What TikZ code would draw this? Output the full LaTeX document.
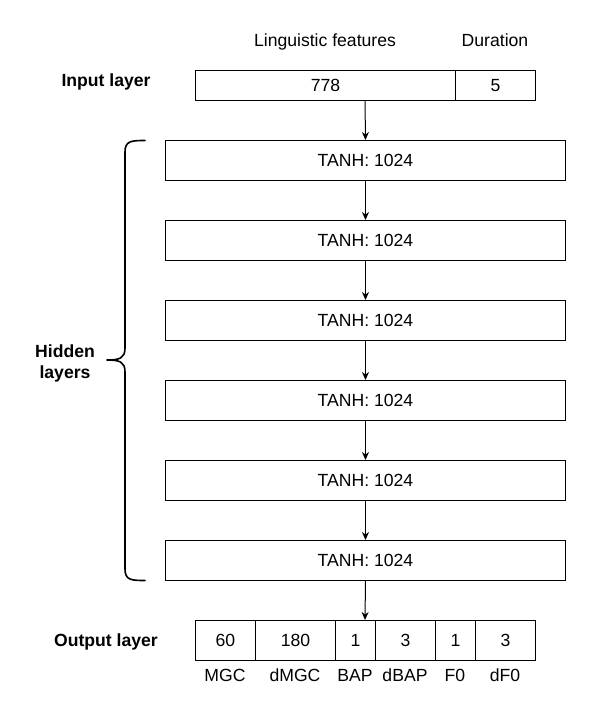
\documentclass[tikz,border=0pt]{standalone}
\usepackage{fontspec}
\setmainfont{Liberation Sans}
\usetikzlibrary{arrows.meta}
\begin{document}
\begin{tikzpicture}[x=1pt,y=-1pt,
  cell/.style={draw=black,line width=1pt,minimum height=30pt,inner sep=0pt,anchor=north west},
  hid/.style={draw=black,line width=1pt,minimum width=400pt,minimum height=40pt,inner sep=0pt,anchor=north west},
  txt/.style={font=\fontsize{17.6}{21}\selectfont,inner sep=0pt,text height=16pt,text depth=3.4pt},
  lbl/.style={font=\fontsize{17.6}{21}\selectfont\bfseries,inner sep=0pt,align=center,text height=16pt,text depth=3.4pt},
  link/.style={draw=black,line width=1pt,-{Stealth[length=8pt,width=7pt]}}]
\useasboundingbox (0,0) rectangle (591,716);
\fill[white] (0,0) rectangle (591,716);

% column captions of the input layer
\node[txt] (capling) at (325,40) {Linguistic features};
\node[txt] (capdur) at (495,40) {Duration};

% input layer
\node[lbl] (inlbl) at (106,80) {Input layer};
\node[cell,minimum width=260pt,txt] (in1) at (195,70) {778};
\node[cell,minimum width=80pt,txt] (in2) at (455,70) {5};
\coordinate (inbot) at (365,100);

% hidden layers
\foreach \i/\y in {1/140,2/220,3/300,4/380,5/460,6/540}{
  \node[hid,txt] (h\i) at (165,\y) {TANH: 1024};
}

% output layer
\node[lbl] (outlbl) at (106,640) {Output layer};
\node[cell,minimum width=60pt,minimum height=40pt,txt] (o1) at (195,620) {60};
\node[cell,minimum width=80pt,minimum height=40pt,txt] (o2) at (255,620) {180};
\node[cell,minimum width=40pt,minimum height=40pt,txt] (o3) at (335,620) {1};
\node[cell,minimum width=60pt,minimum height=40pt,txt] (o4) at (375,620) {3};
\node[cell,minimum width=40pt,minimum height=40pt,txt] (o5) at (435,620) {1};
\node[cell,minimum width=60pt,minimum height=40pt,txt] (o6) at (475,620) {3};
\coordinate (outtop) at (365,620);

% output captions
\node[txt] (c1) at (225,675) {MGC};
\node[txt] (c2) at (295,675) {dMGC};
\node[txt] (c3) at (355,675) {BAP};
\node[txt] (c4) at (405,675) {dBAP};
\node[txt] (c5) at (455,675) {F0};
\node[txt] (c6) at (505,675) {dF0};

% connectors
\draw[link] (inbot) -- (h1.north);
\draw[link] (h1.south) -- (h2.north);
\draw[link] (h2.south) -- (h3.north);
\draw[link] (h3.south) -- (h4.north);
\draw[link] (h4.south) -- (h5.north);
\draw[link] (h5.south) -- (h6.north);
\draw[link] (h6.south) -- (outtop);

% brace grouping the hidden layers
\draw[line width=1.6pt,line cap=round,line join=round]
  (145,140.5) .. controls (131,140.5) and (125,141) .. (125,152)
  -- (125,348) .. controls (125,358) and (120,360) .. (107,360)
  .. controls (120,360) and (125,362) .. (125,372)
  -- (125,569) .. controls (125,580) and (131,580.5) .. (145,580.5);
\node[lbl] (hidlbl) at (65,372) {Hidden\\layers};
\end{tikzpicture}
\end{document}
